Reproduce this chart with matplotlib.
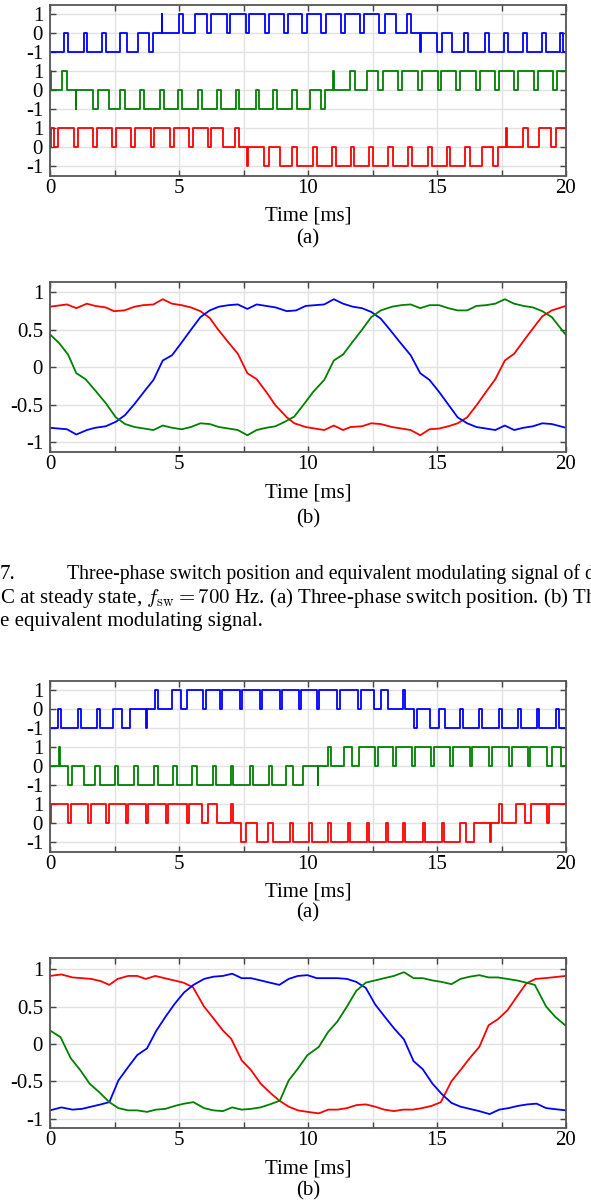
import numpy as np
import matplotlib
matplotlib.use('Agg')
import matplotlib.pyplot as plt

plt.rcParams['font.family'] = ['Liberation Serif', 'DejaVu Serif']
plt.rcParams['mathtext.fontset'] = 'cm'
plt.rcParams['axes.unicode_minus'] = False

# ---------------- data ----------------
# Panel (a), fsw = 700 Hz : switch position, (time ms, level) transitions
sw1_blue = [(0, -1), (0.56, 0), (0.68, -1), (1.30, 0), (1.43, -1), (2.00, 0), (2.17, -1),
            (2.71, 0), (2.97, -1), (3.40, 0), (3.85, -1), (4.01, 0), (4.33, 1), (4.36, 0),
            (5.01, 1), (5.17, 0), (5.62, 1), (6.07, 0), (6.25, 1), (6.85, 0), (6.98, 1),
            (7.60, 0), (7.73, 1), (8.33, 0), (8.48, 1), (9.07, 0), (9.22, 1), (9.78, 0),
            (9.95, 1), (10.52, 0), (10.69, 1), (11.29, 0), (11.42, 1), (12.03, 0), (12.16, 1),
            (12.76, 0), (12.97, 1), (13.40, 0), (13.82, 1), (14.01, 0), (14.34, -1), (14.37, 0),
            (14.99, -1), (15.18, 0), (15.57, -1), (16.05, 0), (16.22, -1), (16.86, 0), (17.02, -1),
            (17.61, 0), (17.77, -1), (18.35, 0), (18.48, -1), (19.06, 0), (19.21, -1), (19.77, 0),
            (19.90, -1)]
sw1_green = [(0, 1), (0.02, 0), (0.48, 1), (0.67, 0), (0.99, -1), (1.02, 0), (1.68, -1), (1.87, 0),
             (2.30, -1), (2.71, 0), (2.91, -1), (3.49, 0), (3.66, -1), (4.26, 0), (4.42, -1),
             (4.97, 0), (5.13, -1), (5.72, 0), (5.88, -1), (6.46, 0), (6.61, -1), (7.20, 0),
             (7.33, -1), (7.97, 0), (8.11, -1), (8.66, 0), (8.81, -1), (9.39, 0), (9.56, -1),
             (10.08, 0), (10.50, -1), (10.67, 0), (10.98, 1), (11.01, 0), (11.63, 1), (11.83, 0),
             (12.27, 1), (12.72, 0), (12.92, 1), (13.50, 0), (13.66, 1), (14.27, 0), (14.42, 1),
             (15.02, 0), (15.16, 1), (15.74, 0), (15.90, 1), (16.50, 0), (16.65, 1), (17.25, 0),
             (17.40, 1), (18.00, 0), (18.13, 1), (18.75, 0), (18.90, 1), (19.50, 0), (19.67, 1)]
sw1_red = [(0, 0), (0.02, 1), (0.15, 0), (0.32, 1), (0.93, 0), (1.07, 1), (1.67, 0), (1.81, 1),
           (2.39, 0), (2.56, 1), (3.13, 0), (3.29, 1), (3.93, 0), (4.05, 1), (4.67, 0), (4.81, 1),
           (5.40, 0), (5.55, 1), (6.11, 0), (6.25, 1), (6.72, 0), (7.17, 1), (7.34, 0), (7.65, -1),
           (7.68, 0), (8.31, -1), (8.50, 0), (8.91, -1), (9.37, 0), (9.56, -1), (10.18, 0),
           (10.34, -1), (10.92, 0), (11.09, -1), (11.66, 0), (11.80, -1), (12.38, 0), (12.52, -1),
           (13.10, 0), (13.28, -1), (13.88, 0), (14.03, -1), (14.66, 0), (14.80, -1), (15.37, 0),
           (15.52, -1), (16.10, 0), (16.27, -1), (16.75, 0), (17.18, -1), (17.35, 0), (17.67, 1),
           (17.70, 0), (18.34, 1), (18.52, 0), (18.95, 1), (19.41, 0), (19.60, 1)]

# Panel (b), fsw = 700 Hz : equivalent modulating signal (time ms, value)
mod1_red = [(0, 0.81), (0.66, 0.84), (1.02, 0.79), (1.43, 0.85), (1.75, 0.82), (2.16, 0.80),
            (2.48, 0.75), (2.88, 0.76), (3.28, 0.81), (3.61, 0.83), (4.01, 0.84), (4.37, 0.91),
            (4.73, 0.85), (5.10, 0.83), (5.46, 0.80), (5.83, 0.75), (6.19, 0.66), (6.48, 0.52),
            (6.85, 0.36), (7.28, 0.18), (7.65, -0.08), (8.01, -0.16), (8.38, -0.33), (8.74, -0.51),
            (9.18, -0.67), (9.47, -0.75), (9.91, -0.80), (10.27, -0.82), (10.63, -0.84),
            (11.00, -0.78), (11.36, -0.84), (11.65, -0.80), (12.09, -0.79), (12.45, -0.75),
            (12.82, -0.76), (13.26, -0.80), (13.62, -0.82), (13.98, -0.84), (14.35, -0.91),
            (14.71, -0.83), (15.08, -0.82), (15.44, -0.79), (15.80, -0.75), (16.17, -0.67),
            (16.53, -0.51), (16.90, -0.33), (17.26, -0.16), (17.63, 0.09), (17.99, 0.18),
            (18.35, 0.35), (18.72, 0.52), (19.08, 0.68), (19.45, 0.76), (20, 0.82)]
mod1_blue = [(0, -0.81), (0.66, -0.83), (1.02, -0.90), (1.43, -0.84), (1.75, -0.81), (2.16, -0.79),
             (2.55, -0.73), (2.91, -0.64), (3.28, -0.49), (3.64, -0.33), (4.01, -0.17), (4.37, 0.09),
             (4.73, 0.16), (5.10, 0.33), (5.46, 0.50), (5.83, 0.67), (6.19, 0.76), (6.55, 0.81),
             (6.92, 0.83), (7.28, 0.84), (7.65, 0.78), (8.01, 0.84), (8.38, 0.82), (8.74, 0.80),
             (9.18, 0.75), (9.54, 0.76), (9.91, 0.82), (10.27, 0.83), (10.63, 0.84), (11.00, 0.91),
             (11.36, 0.85), (11.73, 0.81), (12.09, 0.79), (12.45, 0.74), (12.82, 0.65), (13.18, 0.50),
             (13.55, 0.34), (13.98, 0.16), (14.35, -0.08), (14.71, -0.17), (15.08, -0.33),
             (15.44, -0.50), (15.80, -0.67), (16.17, -0.75), (16.53, -0.80), (16.90, -0.82),
             (17.26, -0.84), (17.63, -0.78), (17.99, -0.84), (18.35, -0.81), (18.72, -0.79),
             (19.08, -0.75), (19.45, -0.76), (20, -0.81)]
mod1_green = [(0, 0.44), (0.36, 0.32), (0.70, 0.17), (1.02, -0.08), (1.38, -0.16), (1.75, -0.31),
              (2.16, -0.48), (2.55, -0.67), (2.91, -0.76), (3.28, -0.80), (3.64, -0.82), (4.01, -0.84),
              (4.37, -0.78), (4.73, -0.81), (5.10, -0.83), (5.46, -0.80), (5.83, -0.75), (6.19, -0.76),
              (6.55, -0.80), (6.92, -0.82), (7.28, -0.84), (7.65, -0.91), (8.01, -0.84), (8.38, -0.81),
              (8.74, -0.79), (9.10, -0.73), (9.47, -0.66), (9.83, -0.50), (10.20, -0.33),
              (10.63, -0.17), (11.00, 0.09), (11.36, 0.17), (11.73, 0.34), (12.09, 0.50),
              (12.45, 0.67), (12.82, 0.76), (13.26, 0.81), (13.62, 0.83), (13.98, 0.84), (14.35, 0.79),
              (14.71, 0.83), (15.08, 0.83), (15.44, 0.79), (15.80, 0.76), (16.17, 0.76), (16.53, 0.82),
              (16.90, 0.83), (17.26, 0.85), (17.63, 0.91), (17.99, 0.85), (18.35, 0.82), (18.72, 0.80),
              (19.08, 0.75), (19.45, 0.67), (20, 0.43)]

# Second figure panel (a): switch position
sw2_blue = [(0, -1), (0.32, 0), (0.43, -1), (1.10, 0), (1.20, -1), (1.81, 0), (1.94, -1), (2.45, 0),
            (2.80, -1), (3.10, 0), (3.72, -1), (3.75, 0), (4.07, 1), (4.20, 0), (4.72, 1), (5.08, 0),
            (5.30, 1), (5.94, 0), (6.03, 1), (6.59, 0), (6.68, 1), (7.36, 0), (7.45, 1), (8.14, 0),
            (8.23, 1), (8.91, 0), (9.00, 1), (9.65, 0), (9.73, 1), (10.36, 0), (10.43, 1), (11.14, 0),
            (11.24, 1), (11.95, 0), (12.04, 1), (12.56, 0), (12.82, 1), (13.11, 0), (13.70, 1),
            (13.76, 0), (14.10, -1), (14.22, 0), (14.72, -1), (15.07, 0), (15.30, -1), (15.90, 0),
            (16.02, -1), (16.64, 0), (16.76, -1), (17.40, 0), (17.51, -1), (18.13, 0), (18.24, -1),
            (18.86, 0), (18.97, -1), (19.60, 0), (19.73, -1)]
sw2_green = [(0, 0), (0.34, 1), (0.38, 0), (0.69, -1), (0.87, 0), (1.33, -1), (1.74, 0), (1.94, -1),
             (2.52, 0), (2.65, -1), (3.27, 0), (3.40, -1), (4.04, 0), (4.17, -1), (4.78, 0), (4.93, -1),
             (5.49, 0), (5.68, -1), (6.33, 0), (6.42, -1), (7.02, 0), (7.11, -1), (7.75, 0), (7.85, -1),
             (8.49, 0), (8.62, -1), (9.15, 0), (9.43, -1), (9.82, 0), (10.37, -1), (10.40, 0),
             (10.76, 1), (10.88, 0), (11.40, 1), (11.72, 0), (11.99, 1), (12.60, 0), (12.73, 1),
             (13.28, 0), (13.40, 1), (14.02, 0), (14.14, 1), (14.77, 0), (14.89, 1), (15.52, 0),
             (15.63, 1), (16.26, 0), (16.37, 1), (17.00, 0), (17.12, 1), (17.78, 0), (17.90, 1),
             (18.52, 0), (18.62, 1), (19.25, 0), (19.45, 1), (19.80, 0)]
sw2_red = [(0, 0), (0.03, 1), (0.71, 0), (0.81, 1), (1.46, 0), (1.59, 1), (2.17, 0), (2.30, 1),
           (2.95, 0), (3.04, 1), (3.72, 0), (3.81, 1), (4.50, 0), (4.58, 1), (5.30, 0), (5.39, 1),
           (5.88, 0), (6.13, 1), (6.46, 0), (7.03, 1), (7.09, 0), (7.40, -1), (7.58, 0), (8.04, -1),
           (8.45, 0), (8.65, -1), (9.30, 0), (9.42, -1), (10.05, 0), (10.14, -1), (10.79, 0),
           (10.88, -1), (11.54, 0), (11.63, -1), (12.27, 0), (12.37, -1), (13.02, 0), (13.11, -1),
           (13.70, 0), (13.77, -1), (14.45, 0), (14.54, -1), (15.18, 0), (15.29, -1), (15.89, 0),
           (16.13, -1), (16.45, 0), (17.05, -1), (17.08, 0), (17.40, 1), (17.53, 0), (18.05, 1),
           (18.41, 0), (18.63, 1), (19.27, 0), (19.36, 1)]

# Second figure panel (b): equivalent modulating signal
mod2_red = [(0, 0.91), (0.44, 0.93), (0.87, 0.89), (1.24, 0.88), (1.60, 0.87), (1.97, 0.84),
            (2.30, 0.79), (2.62, 0.87), (3.03, 0.91), (3.38, 0.91), (3.71, 0.87), (4.08, 0.91),
            (4.44, 0.88), (4.81, 0.85), (5.17, 0.82), (5.54, 0.76), (5.97, 0.50), (6.34, 0.34),
            (6.70, 0.18), (7.02, 0.07), (7.43, -0.22), (7.79, -0.35), (8.16, -0.53), (8.52, -0.65),
            (8.89, -0.76), (9.25, -0.84), (9.61, -0.89), (9.98, -0.91), (10.42, -0.93), (10.78, -0.88),
            (11.14, -0.88), (11.51, -0.86), (11.87, -0.82), (12.24, -0.81), (12.60, -0.84),
            (12.96, -0.88), (13.33, -0.90), (13.69, -0.88), (14.06, -0.88), (14.42, -0.86),
            (14.79, -0.83), (15.15, -0.78), (15.56, -0.50), (15.91, -0.35), (16.27, -0.19),
            (16.64, -0.04), (17.00, 0.25), (17.36, 0.33), (17.73, 0.45), (18.09, 0.63), (18.46, 0.81),
            (18.82, 0.87), (19.18, 0.88), (20, 0.91)]
mod2_blue = [(0, -0.89), (0.44, -0.85), (0.87, -0.88), (1.24, -0.87), (1.60, -0.84), (1.97, -0.81),
             (2.30, -0.78), (2.65, -0.49), (3.03, -0.31), (3.38, -0.15), (3.76, -0.06), (4.11, 0.17),
             (4.47, 0.36), (4.84, 0.54), (5.20, 0.69), (5.56, 0.79), (5.97, 0.87), (6.34, 0.90),
             (6.70, 0.91), (7.06, 0.94), (7.43, 0.88), (7.79, 0.88), (8.16, 0.85), (8.52, 0.82),
             (8.89, 0.79), (9.25, 0.87), (9.61, 0.91), (9.98, 0.92), (10.34, 0.88), (10.78, 0.88),
             (11.14, 0.88), (11.51, 0.87), (11.87, 0.83), (12.24, 0.75), (12.60, 0.53), (12.96, 0.37),
             (13.33, 0.21), (13.72, 0.06), (14.09, -0.23), (14.45, -0.34), (14.82, -0.53),
             (15.18, -0.67), (15.56, -0.79), (15.91, -0.84), (16.27, -0.87), (16.64, -0.90),
             (17.04, -0.94), (17.41, -0.88), (17.77, -0.86), (18.14, -0.83), (18.50, -0.81),
             (18.86, -0.80), (19.23, -0.86), (20, -0.89)]
mod2_green = [(0, 0.18), (0.41, 0.09), (0.80, -0.19), (1.17, -0.35), (1.53, -0.53), (1.92, -0.65),
              (2.30, -0.78), (2.65, -0.86), (3.03, -0.89), (3.38, -0.89), (3.76, -0.91), (4.11, -0.88),
              (4.47, -0.87), (4.84, -0.83), (5.20, -0.80), (5.56, -0.78), (5.97, -0.86), (6.34, -0.89),
              (6.70, -0.90), (7.06, -0.85), (7.43, -0.88), (7.79, -0.87), (8.16, -0.85), (8.52, -0.81),
              (8.91, -0.76), (9.25, -0.49), (9.61, -0.33), (9.98, -0.15), (10.42, -0.04), (10.78, 0.16),
              (11.14, 0.30), (11.51, 0.50), (11.87, 0.71), (12.24, 0.82), (12.60, 0.85), (12.96, 0.88),
              (13.33, 0.91), (13.72, 0.96), (14.09, 0.88), (14.45, 0.88), (14.82, 0.85), (15.18, 0.83),
              (15.56, 0.80), (15.91, 0.87), (16.27, 0.90), (16.64, 0.92), (17.00, 0.89), (17.36, 0.89),
              (17.73, 0.87), (18.09, 0.85), (18.46, 0.82), (18.79, 0.79), (19.23, 0.50), (19.59, 0.36),
              (20, 0.24)]

x_ticks = [0, 2.5, 5, 7.5, 10, 12.5, 15, 17.5, 20]
x_ticklabels = ['0', '', '5', '', '10', '', '15', '', '20']
sw_ticklabels = ['1', '0', '-1'] * 3
mod_ticks = [1, 0.5, 0, -0.5, -1]
mod_ticklabels = ['1', '0.5', '0', '-0.5', '-1']
caption = ['7.', 'Three-phase switch position and equivalent modulating signal of d',
           r'C at steady state, $f_{\rm sw}=700$ Hz. (a) Three-phase switch position. (b) Th',
           'e equivalent modulating signal.']

BLUE, GREEN, RED = '#0000ff', '#008000', '#ff0000'
offsets = {BLUE: 3, GREEN: 0, RED: -3}

# ---------------- figure ----------------
W, H = 591, 1203
fig = plt.figure(figsize=(W / 100, H / 100), dpi=100)
FS = 15


def ax_px(left, top, right, bottom):
    return fig.add_axes([left / W, 1 - bottom / H, (right - left) / W, (bottom - top) / H])


def style(ax, yticks, ylabels, ylim):
    ax.set_xlim(0, 20)
    ax.set_ylim(*ylim)
    ax.set_xticks(x_ticks)
    ax.set_xticklabels(x_ticklabels)
    ax.set_yticks(yticks)
    ax.set_yticklabels(ylabels)
    ax.grid(True, color='#e2e2e2', lw=1.0)
    ax.set_axisbelow(True)
    ax.tick_params(direction='in', length=4, width=1.0, color='#444444',
                   top=True, right=True, labelsize=FS)
    ax.tick_params(axis='x', pad=2.5)
    ax.tick_params(axis='y', pad=5)
    for s in ax.spines.values():
        s.set_color('#555555')
        s.set_linewidth(1.3)


def draw_switch(ax, series):
    for data, col in series:
        t = [p[0] for p in data] + [20]
        s = [p[1] for p in data] + [data[-1][1]]
        ax.step(t, np.array(s) + offsets[col], where='post', color=col, lw=1.3)
    style(ax, [4, 3, 2, 1, 0, -1, -2, -3, -4], sw_ticklabels, (-4.5, 4.48))


def draw_mod(ax, series, ylim):
    for data, col in series:
        t = [p[0] for p in data]
        v = [p[1] for p in data]
        ax.plot(t, v, color=col, lw=1.3)
    style(ax, mod_ticks, mod_ticklabels, ylim)


def labels(y_time, y_sub, sub):
    fig.text(308 / W, 1 - y_time / H, 'Time [ms]', ha='center', va='center', fontsize=FS)
    fig.text(308 / W, 1 - y_sub / H, sub, ha='center', va='center', fontsize=FS)


ax1 = ax_px(50, 5, 566, 176)
draw_switch(ax1, [(sw1_blue, BLUE), (sw1_green, GREEN), (sw1_red, RED)])
labels(216, 239, '(a)')

ax2 = ax_px(50, 282, 566, 452)
draw_mod(ax2, [(mod1_red, RED), (mod1_blue, BLUE), (mod1_green, GREEN)], (-1.134, 1.14))
labels(493, 519, '(b)')

fig.text(0 / W, 1 - 579 / H, caption[0], ha='left', va='baseline', fontsize=FS)
fig.text(67 / W, 1 - 579 / H, caption[1], ha='left', va='baseline', fontsize=14.2)
fig.text(0 / W, 1 - 603 / H, caption[2], ha='left', va='baseline', fontsize=FS)
fig.text(0 / W, 1 - 626 / H, caption[3], ha='left', va='baseline', fontsize=FS)

ax3 = ax_px(50, 681, 566, 852)
draw_switch(ax3, [(sw2_blue, BLUE), (sw2_green, GREEN), (sw2_red, RED)])
labels(892, 913, '(a)')

ax4 = ax_px(50, 958, 566, 1128)
draw_mod(ax4, [(mod2_red, RED), (mod2_blue, BLUE), (mod2_green, GREEN)], (-1.126, 1.15))
labels(1169, 1191, '(b)')

fig.savefig('out.png', dpi=100)
